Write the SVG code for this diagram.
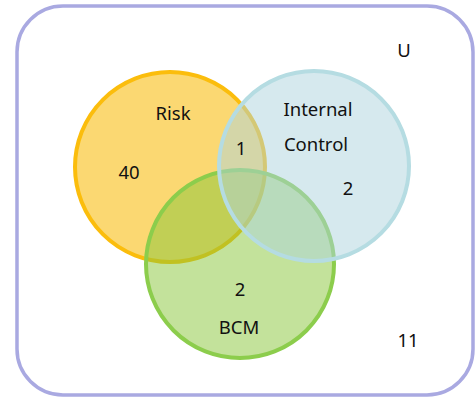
<svg xmlns="http://www.w3.org/2000/svg" width="475" height="400" viewBox="0 0 475 400">
<style>
text{font-family:"Noto Sans","Liberation Sans",sans-serif;font-size:18.5px;fill:#111;text-anchor:middle}
.c{stroke-width:4}
</style>
<rect width="475" height="400" fill="#fff"/>
<g id="universe">
<rect x="17" y="6" width="456" height="389" rx="46" fill="none" stroke="#a9a9e1" stroke-width="3.5"/>
<text x="404" y="57">U</text>
<text x="408" y="347">11</text>
</g>
<g id="risk">
<circle class="c" cx="170" cy="167" r="95" fill="#fbd872" stroke="#fbbd0c"/>
</g>
<g id="bcm">
<circle class="c" cx="240" cy="264" r="94" fill="rgb(135,197,55)" fill-opacity="0.5" stroke="#8ccd4c"/>
</g>
<g id="ic">
<circle class="c" cx="314" cy="166" r="95" fill="rgb(173,211,221)" fill-opacity="0.5" stroke="#b5dce2"/>
</g>
<g id="labels">
<text x="173" y="120">Risk</text>
<text x="129" y="179">40</text>
<text x="241" y="155">1</text>
<text x="318" y="116">Internal</text>
<text x="316" y="151">Control</text>
<text x="348" y="195">2</text>
<text x="240" y="296">2</text>
<text x="239" y="334">BCM</text>
</g>
</svg>
